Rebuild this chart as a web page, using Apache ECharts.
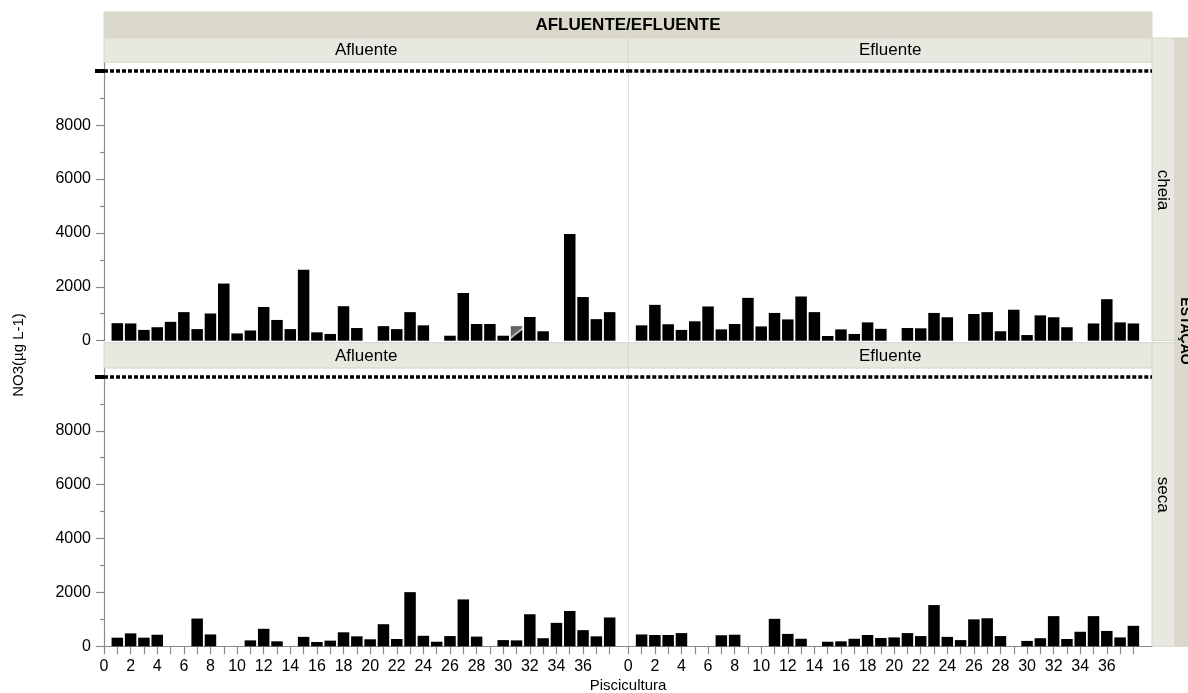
<!DOCTYPE html>
<html>
<head>
<meta charset="utf-8">
<script src="https://cdn.jsdelivr.net/npm/echarts@6/dist/echarts.min.js"></script>
<style>
  html, body { margin: 0; padding: 0; background: #ffffff; }
  #chart { width: 1188px; height: 693px; }
</style>
</head>
<body>
<div id="chart"></div>
<script>
// Piscicultura codes (x position of each bar)
const piscicultura = [1, 2, 3, 4, 5, 6, 7, 8, 9, 10, 11, 12, 13, 14, 15, 16, 17, 18, 19, 20,
  21, 22, 23, 24, 25, 26, 27, 28, 29, 30, 31, 32, 33, 34, 35, 36, 37, 38];

// Facet levels
const columnLevels = ['Afluente', 'Efluente'];
const rowLevels = ['cheia', 'seca'];

// NO3 (µg L-1) per piscicultura; null = no measurement
const cheiaAfluente = [650, 640, 400, 500, 700, 1060, 430, 1010, 2120, 270,
  380, 1250, 770, 430, 2630, 310, 250, 1280, 470, null,
  540, 430, 1060, 570, null, 185, 1770, 620, 620, 185,
  540, 880, 350, null, 3960, 1620, 800, 1060];
const cheiaEfluente = [570, 1330, 610, 400, 720, 1270, 420, 620, 1590, 530,
  1030, 790, 1640, 1060, 175, 420, 250, 680, 440, null,
  470, 460, 1030, 870, null, 990, 1060, 350, 1150, 210,
  940, 870, 500, null, 640, 1540, 680, 640];
const secaAfluente = [320, 480, 320, 430, null, null, 1030, 440, null, null,
  220, 650, 185, null, 350, 160, 210, 520, 370, 260,
  820, 270, 2010, 390, 170, 380, 1740, 360, null, 230,
  220, 1190, 300, 870, 1310, 600, 370, 1070];
const secaEfluente = [440, 420, 420, 490, null, null, 410, 430, null, null,
  1020, 460, 280, null, 170, 185, 280, 420, 310, 330,
  490, 380, 1530, 350, 230, 1000, 1040, 380, null, 200,
  300, 1120, 270, 540, 1120, 570, 330, 760];

// Axis ticks and labels
const xTickValues = [0, 1, 2, 3, 4, 5, 6, 7, 8, 9, 10, 11, 12, 13, 14, 15, 16, 17, 18, 19,
  20, 21, 22, 23, 24, 25, 26, 27, 28, 29, 30, 31, 32, 33, 34, 35, 36, 37, 38];
const xTickLabels = [0, 2, 4, 6, 8, 10, 12, 14, 16, 18, 20, 22, 24, 26, 28, 30, 32, 34, 36];
const yTickLabels = [0, 2000, 4000, 6000, 8000];
const yMinorTicks = [1000, 3000, 5000, 7000, 9000];
const yReference = 10000;
const yMax = 10330;
const xMax = 39.4;

const panelValues = [[cheiaAfluente, cheiaEfluente], [secaAfluente, secaEfluente]];
const hatchedPoint = { row: 0, col: 0, code: 31 };

const FONT = '"Liberation Sans", Arial, Helvetica, sans-serif';
const LEFT = 104, MID = 628.3, RIGHT = 1152;
const rows = [{ top: 62.3, bottom: 340.7 }, { top: 368, bottom: 646.3 }];
const AXIS_GRAY = '#8a8a8a';
const plain = v => String(v);

const grids = [], xAxes = [], yAxes = [], series = [];

rows.forEach((rowBox, r) => {
  [0, 1].forEach(c => {
    const g = grids.length;
    const left = c === 0 ? LEFT : MID;
    const right = c === 0 ? MID : RIGHT;
    grids.push({ left: left, top: rowBox.top, width: right - left, height: rowBox.bottom - rowBox.top });

    const bottomRow = r === rows.length - 1;
    xAxes.push({
      type: 'value', gridIndex: g, min: 0, max: xMax,
      axisLine: { show: bottomRow, lineStyle: { color: AXIS_GRAY, width: 1.2 } },
      axisTick: { show: bottomRow, customValues: xTickValues, length: 8, lineStyle: { color: AXIS_GRAY, width: 1.2 } },
      axisLabel: { show: bottomRow, customValues: xTickLabels, formatter: plain, fontSize: 16,
        color: '#000', fontFamily: FONT, margin: 12 },
      splitLine: { show: false }
    });

    const mainY = yAxes.length;
    yAxes.push({
      type: 'value', gridIndex: g, min: 0, max: yMax, position: 'left',
      axisLine: { show: true, lineStyle: { color: c === 0 ? AXIS_GRAY : '#dcdcdc', width: c === 0 ? 1.2 : 1 } },
      axisTick: { show: c === 0, customValues: yTickLabels, length: 8, lineStyle: { color: AXIS_GRAY, width: 1.2 } },
      axisLabel: { show: c === 0, customValues: yTickLabels, formatter: plain, fontSize: 16,
        color: '#000', fontFamily: FONT, margin: 13 },
      splitLine: { show: false }
    });
    if (c === 0) {
      // minor ticks
      yAxes.push({
        type: 'value', gridIndex: g, min: 0, max: yMax, position: 'left',
        axisLine: { show: false },
        axisTick: { show: true, customValues: yMinorTicks, length: 4, lineStyle: { color: AXIS_GRAY, width: 1.2 } },
        axisLabel: { show: false }, splitLine: { show: false }
      });
      // heavy tick marking the reference level
      yAxes.push({
        type: 'value', gridIndex: g, min: 0, max: yMax, position: 'left',
        axisLine: { show: false },
        axisTick: { show: true, customValues: [yReference], length: 9, lineStyle: { color: '#000', width: 4 } },
        axisLabel: { show: false }, splitLine: { show: false }
      });
    }

    const values = panelValues[r][c];
    const data = [];
    piscicultura.forEach((code, i) => {
      if (values[i] == null) return;
      const item = { value: [code, values[i]] };
      if (r === hatchedPoint.row && c === hatchedPoint.col && code === hatchedPoint.code) {
        item.itemStyle = {
          color: new echarts.graphic.LinearGradient(0, 0, 1, 1, [
            { offset: 0, color: '#5a5a5a' }, { offset: 0.42, color: '#6a6a6a' },
            { offset: 0.5, color: '#d8d8d8' }, { offset: 0.58, color: '#000' },
            { offset: 1, color: '#000' }
          ])
        };
      }
      data.push(item);
    });

    series.push({
      type: 'bar', xAxisIndex: g, yAxisIndex: mainY, data: data,
      barWidth: 11.5,
      itemStyle: { color: '#000' },
      silent: true,
      markLine: {
        silent: true, symbol: ['none', 'none'],
        label: { show: false },
        lineStyle: { color: '#000', width: 3.5, type: [4, 2] },
        data: [{ yAxis: yReference }]
      }
    });
  });
});

// Facet strips and titles
const STRIP_DARK = '#dad8ca', STRIP_LIGHT = '#e8e8e0', STRIP_EDGE = '#d6d6cc';
const graphics = [];
function strip(x, y, w, h, fill) {
  graphics.push({ type: 'rect', shape: { x: x, y: y, width: w, height: h },
    style: { fill: fill, stroke: STRIP_EDGE, lineWidth: 1 }, silent: true, z: 1 });
}
function label(text, x, y, opts) {
  opts = opts || {};
  graphics.push({ type: 'text', x: x, y: y, rotation: opts.rotation || 0, silent: true, z: 2,
    style: { text: text, fontSize: opts.size || 16, fontWeight: opts.bold ? 'bold' : 'normal',
      fontFamily: FONT, fill: '#000', align: 'center', verticalAlign: 'middle' } });
}

strip(LEFT, 12, RIGHT - LEFT, 26, STRIP_DARK);
label('AFLUENTE/EFLUENTE', (LEFT + RIGHT) / 2, 25.5, { bold: true, size: 17 });

const stripRows = [{ y: 38, h: 24.3 }, { y: 342.7, h: 25.3 }];
stripRows.forEach(sr => {
  strip(LEFT, sr.y, MID - LEFT, sr.h, STRIP_LIGHT);
  strip(MID, sr.y, RIGHT - MID, sr.h, STRIP_LIGHT);
  label(columnLevels[0], (LEFT + MID) / 2, sr.y + sr.h / 2 + 0.5, { size: 17 });
  label(columnLevels[1], (MID + RIGHT) / 2, sr.y + sr.h / 2 + 0.5, { size: 17 });
});

// row strips on the right
const rowStrips = [{ y: 38, h: 302.7 }, { y: 342.7, h: 303.6 }];
rowStrips.forEach((rs, i) => {
  strip(RIGHT, rs.y, 23, rs.h, STRIP_LIGHT);
  label(rowLevels[i], RIGHT + 10.5, rs.y + 152, { size: 17, rotation: -Math.PI / 2 });
});
strip(RIGHT + 23, 38, 30, 646.3 - 38, STRIP_DARK);
label('ESTAÇÃO', RIGHT + 33, 331, { size: 14, bold: true, rotation: -Math.PI / 2 });

// axis titles
label('NO3(µg L-1)', 19, 355, { size: 15, rotation: Math.PI / 2 });
label('Piscicultura', (LEFT + RIGHT) / 2, 686, { size: 15 });

const chart = echarts.init(document.getElementById('chart'), null, { renderer: 'canvas' });
chart.setOption({
  animation: false,
  backgroundColor: '#ffffff',
  textStyle: { fontFamily: FONT },
  grid: grids,
  xAxis: xAxes,
  yAxis: yAxes,
  series: series,
  graphic: graphics
});
</script>
</body>
</html>
